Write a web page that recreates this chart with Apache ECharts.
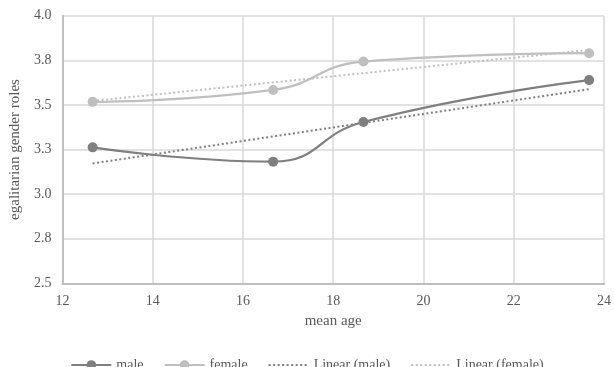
<!DOCTYPE html>
<html>
<head>
<meta charset="utf-8">
<script src="https://cdn.jsdelivr.net/npm/echarts@6/dist/echarts.min.js"></script>
<style>
html,body{margin:0;padding:0;background:#fff;}
#chart{width:614px;height:367px;}
</style>
</head>
<body>
<div id="chart"></div>
<script>
// Data
var meanAge = [12.67, 16.67, 18.67, 23.67];
var maleValues = [3.262, 3.182, 3.404, 3.639];
var femaleValues = [3.517, 3.584, 3.743, 3.790];
var trendAge = [12.67, 23.67];
var maleTrend = [3.172, 3.588];
var femaleTrend = [3.522, 3.808];
var yTickValues = [2.5, 2.75, 3.0, 3.25, 3.5, 3.75, 4.0];
var yTickLabels = ['2.5', '2.8', '3.0', '3.3', '3.5', '3.8', '4.0'];
var xTickLabels = ['12', '14', '16', '18', '20', '22', '24'];
var legendNames = ['male', 'female', 'Linear (male)', 'Linear (female)'];

function pairs(xs, ys) { return xs.map(function (x, i) { return [x, ys[i]]; }); }

var font = 'Liberation Serif';
var txt = '#595959';
var maleColor = '#7f7f7f';
var femaleColor = '#bfbfbf';

var chart = echarts.init(document.getElementById('chart'), null, {renderer: 'canvas'});
chart.setOption({
  animation: false,
  backgroundColor: '#ffffff',
  textStyle: {fontFamily: font, color: txt},
  grid: {left: 55, right: 7, top: 15.7, bottom: 83.7, containLabel: false},
  xAxis: {
    type: 'value', min: 12, max: 24, interval: 2,
    name: 'mean age', nameLocation: 'middle', nameGap: 30,
    nameTextStyle: {fontFamily: font, fontSize: 15, color: txt},
    axisLine: {show: true, lineStyle: {color: '#bfbfbf', width: 2}},
    axisTick: {show: false},
    axisLabel: {fontFamily: font, fontSize: 14, color: txt, margin: 11,
      formatter: function (v) { var i = Math.round((v - 12) / 2); return xTickLabels[i]; }},
    splitLine: {show: true, lineStyle: {color: '#d9d9d9', width: 1.5}}
  },
  yAxis: {
    type: 'value', min: 2.5, max: 4.0, interval: 0.25,
    name: 'egalitarian gender roles', nameLocation: 'middle', nameGap: 35,
    nameTextStyle: {fontFamily: font, fontSize: 15, color: txt},
    axisLine: {show: true, lineStyle: {color: '#bfbfbf', width: 2}},
    axisTick: {show: false},
    axisLabel: {fontFamily: font, fontSize: 14, color: txt, margin: 11,
      formatter: function (v) {
        var i = Math.round((v - yTickValues[0]) / 0.25); return yTickLabels[i];
      }},
    splitLine: {show: true, lineStyle: {color: '#d9d9d9', width: 1.5}}
  },
  legend: {
    left: 'center', top: 353,
    itemWidth: 40, itemHeight: 12, itemGap: 20,
    textStyle: {fontFamily: font, fontSize: 14, color: txt},
    data: [
      {name: legendNames[0]},
      {name: legendNames[1]},
      {name: legendNames[2], itemStyle: {opacity: 0}},
      {name: legendNames[3], itemStyle: {opacity: 0}}
    ]
  },
  series: [
    {
      name: legendNames[0], type: 'line', smooth: 0.5,
      data: pairs(meanAge, maleValues),
      symbol: 'circle', symbolSize: 10,
      lineStyle: {color: maleColor, width: 2.25},
      itemStyle: {color: maleColor}, z: 3
    },
    {
      name: legendNames[1], type: 'line', smooth: 0.5,
      data: pairs(meanAge, femaleValues),
      symbol: 'circle', symbolSize: 10,
      lineStyle: {color: femaleColor, width: 2.25},
      itemStyle: {color: femaleColor}, z: 3
    },
    {
      name: legendNames[2], type: 'line',
      data: pairs(trendAge, maleTrend),
      symbol: 'none',
      lineStyle: {color: maleColor, width: 2, type: [2, 2.5]},
      itemStyle: {color: maleColor}, z: 2
    },
    {
      name: legendNames[3], type: 'line',
      data: pairs(trendAge, femaleTrend),
      symbol: 'none',
      lineStyle: {color: femaleColor, width: 2, type: [2, 2.5]},
      itemStyle: {color: femaleColor}, z: 2
    }
  ]
});
</script>
</body>
</html>
